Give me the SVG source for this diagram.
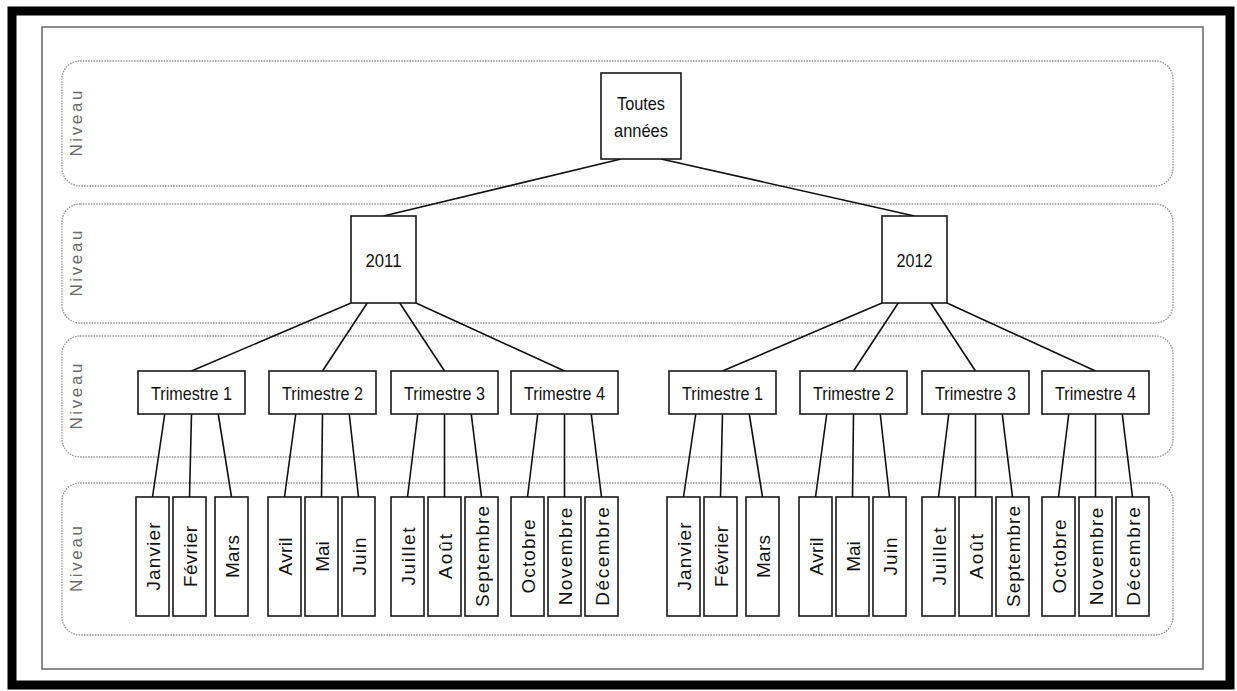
<svg xmlns="http://www.w3.org/2000/svg" width="1237" height="691" viewBox="0 0 1237 691">
  <style>
    .frame { fill: none; stroke: #000; stroke-width: 9; }
    .page { fill: #fff; stroke: #666; stroke-width: 1.5; }
    .band { fill: none; stroke: #999; stroke-width: 1.3; stroke-dasharray: 1.6 1.1; }
    .band-label { font-family: "Liberation Sans", Arial, sans-serif; font-size: 17px; fill: #6b6b6b; text-anchor: middle; }
    .box { fill: #fff; stroke: #1a1a1a; stroke-width: 1.6; }
    .lbl { font-family: "Liberation Sans", Arial, sans-serif; font-size: 19px; fill: #111; text-anchor: middle; }
    .month { font-family: "Liberation Sans", Arial, sans-serif; font-size: 19px; fill: #111; text-anchor: middle; }
    .links line { stroke: #111; stroke-width: 1.6; }
  </style>

  <rect x="0" y="0" width="1237" height="691" fill="#fff"/>
  <rect class="frame" x="12" y="11" width="1218" height="674"/>
  <rect class="page" x="42" y="27" width="1161" height="642"/>

  <!-- hierarchy levels -->
  <g id="levels">
    <rect class="band" x="62" y="61" width="1111" height="125" rx="18"/>
    <rect class="band" x="62" y="204" width="1111" height="119" rx="18"/>
    <rect class="band" x="62" y="336" width="1111" height="121" rx="18"/>
    <rect class="band" x="62" y="483" width="1111" height="152" rx="18"/>
    <text class="band-label" x="82" y="123.5" transform="rotate(-90 82 123.5)" textLength="66" lengthAdjust="spacing">Niveau</text>
    <text class="band-label" x="82" y="263.5" transform="rotate(-90 82 263.5)" textLength="66" lengthAdjust="spacing">Niveau</text>
    <text class="band-label" x="82" y="396.5" transform="rotate(-90 82 396.5)" textLength="66" lengthAdjust="spacing">Niveau</text>
    <text class="band-label" x="82" y="559" transform="rotate(-90 82 559)" textLength="66" lengthAdjust="spacing">Niveau</text>
  </g>

  <!-- connectors -->
  <g id="connectors" class="links">
    <line x1="621" y1="159" x2="383.5" y2="216"/>
    <line x1="661" y1="159" x2="914.5" y2="216"/>

    <line x1="351" y1="303" x2="191.5" y2="371"/>
    <line x1="367.25" y1="303" x2="322.5" y2="371"/>
    <line x1="399.75" y1="303" x2="444.5" y2="371"/>
    <line x1="416" y1="303" x2="564.5" y2="371"/>

    <line x1="882" y1="303" x2="722.5" y2="371"/>
    <line x1="898.25" y1="303" x2="853.5" y2="371"/>
    <line x1="930.75" y1="303" x2="975.5" y2="371"/>
    <line x1="947" y1="303" x2="1095.5" y2="371"/>

    <line x1="164.75" y1="414" x2="152.5" y2="497"/>
    <line x1="191.5" y1="414" x2="189.5" y2="497"/>
    <line x1="218.25" y1="414" x2="231.5" y2="497"/>
    <line x1="295.75" y1="414" x2="284.5" y2="497"/>
    <line x1="322.5" y1="414" x2="321.5" y2="497"/>
    <line x1="349.25" y1="414" x2="358.5" y2="497"/>
    <line x1="417.75" y1="414" x2="407.5" y2="497"/>
    <line x1="444.5" y1="414" x2="444.5" y2="497"/>
    <line x1="471.25" y1="414" x2="481.5" y2="497"/>
    <line x1="537.75" y1="414" x2="527.5" y2="497"/>
    <line x1="564.5" y1="414" x2="564.5" y2="497"/>
    <line x1="591.25" y1="414" x2="601.5" y2="497"/>

    <line x1="695.75" y1="414" x2="683.5" y2="497"/>
    <line x1="722.5" y1="414" x2="720.5" y2="497"/>
    <line x1="749.25" y1="414" x2="762.5" y2="497"/>
    <line x1="826.75" y1="414" x2="815.5" y2="497"/>
    <line x1="853.5" y1="414" x2="852.5" y2="497"/>
    <line x1="880.25" y1="414" x2="889.5" y2="497"/>
    <line x1="948.75" y1="414" x2="938.5" y2="497"/>
    <line x1="975.5" y1="414" x2="975.5" y2="497"/>
    <line x1="1002.25" y1="414" x2="1012.5" y2="497"/>
    <line x1="1068.75" y1="414" x2="1058.5" y2="497"/>
    <line x1="1095.5" y1="414" x2="1095.5" y2="497"/>
    <line x1="1122.25" y1="414" x2="1132.5" y2="497"/>
  </g>

  <!-- root -->
  <g id="node-toutes">
    <rect class="box" x="601" y="73" width="80" height="86"/>
    <text class="lbl" x="641" y="110" textLength="48" lengthAdjust="spacingAndGlyphs">Toutes</text>
    <text class="lbl" x="641" y="136.5" textLength="54" lengthAdjust="spacingAndGlyphs">années</text>
  </g>

  <!-- years -->
  <g id="node-2011">
    <rect class="box" x="351" y="216" width="65" height="87"/>
    <text class="lbl" x="383.5" y="267" textLength="36" lengthAdjust="spacingAndGlyphs">2011</text>
  </g>
  <g id="node-2012">
    <rect class="box" x="882" y="216" width="65" height="87"/>
    <text class="lbl" x="914.5" y="267" textLength="36" lengthAdjust="spacingAndGlyphs">2012</text>
  </g>

  <!-- quarters 2011 -->
  <g id="node-2011-t1">
    <rect class="box" x="138" y="371" width="107" height="43"/>
    <text class="lbl" x="191.5" y="400" textLength="81" lengthAdjust="spacingAndGlyphs">Trimestre 1</text>
  </g>
  <g id="node-2011-t2">
    <rect class="box" x="269" y="371" width="107" height="43"/>
    <text class="lbl" x="322.5" y="400" textLength="81" lengthAdjust="spacingAndGlyphs">Trimestre 2</text>
  </g>
  <g id="node-2011-t3">
    <rect class="box" x="391" y="371" width="107" height="43"/>
    <text class="lbl" x="444.5" y="400" textLength="81" lengthAdjust="spacingAndGlyphs">Trimestre 3</text>
  </g>
  <g id="node-2011-t4">
    <rect class="box" x="511" y="371" width="107" height="43"/>
    <text class="lbl" x="564.5" y="400" textLength="81" lengthAdjust="spacingAndGlyphs">Trimestre 4</text>
  </g>

  <!-- quarters 2012 -->
  <g id="node-2012-t1">
    <rect class="box" x="669" y="371" width="107" height="43"/>
    <text class="lbl" x="722.5" y="400" textLength="81" lengthAdjust="spacingAndGlyphs">Trimestre 1</text>
  </g>
  <g id="node-2012-t2">
    <rect class="box" x="800" y="371" width="107" height="43"/>
    <text class="lbl" x="853.5" y="400" textLength="81" lengthAdjust="spacingAndGlyphs">Trimestre 2</text>
  </g>
  <g id="node-2012-t3">
    <rect class="box" x="922" y="371" width="107" height="43"/>
    <text class="lbl" x="975.5" y="400" textLength="81" lengthAdjust="spacingAndGlyphs">Trimestre 3</text>
  </g>
  <g id="node-2012-t4">
    <rect class="box" x="1042" y="371" width="107" height="43"/>
    <text class="lbl" x="1095.5" y="400" textLength="81" lengthAdjust="spacingAndGlyphs">Trimestre 4</text>
  </g>

  <!-- months 2011 -->
  <g id="node-2011-janvier"><rect class="box" x="136" y="497" width="33" height="119"/><text class="month" x="159.5" y="556.5" transform="rotate(-90 159.5 556.5)" textLength="68" lengthAdjust="spacing">Janvier</text></g>
  <g id="node-2011-fevrier"><rect class="box" x="173" y="497" width="33" height="119"/><text class="month" x="196.5" y="556.5" transform="rotate(-90 196.5 556.5)" textLength="61" lengthAdjust="spacing">Février</text></g>
  <g id="node-2011-mars"><rect class="box" x="215" y="497" width="33" height="119"/><text class="month" x="238.5" y="556.5" transform="rotate(-90 238.5 556.5)" textLength="43" lengthAdjust="spacing">Mars</text></g>
  <g id="node-2011-avril"><rect class="box" x="268" y="497" width="33" height="119"/><text class="month" x="291.5" y="556.5" transform="rotate(-90 291.5 556.5)" textLength="38" lengthAdjust="spacing">Avril</text></g>
  <g id="node-2011-mai"><rect class="box" x="305" y="497" width="33" height="119"/><text class="month" x="328.5" y="556.5" transform="rotate(-90 328.5 556.5)" textLength="30.5" lengthAdjust="spacing">Mai</text></g>
  <g id="node-2011-juin"><rect class="box" x="342" y="497" width="33" height="119"/><text class="month" x="365.5" y="556.5" transform="rotate(-90 365.5 556.5)" textLength="38" lengthAdjust="spacing">Juin</text></g>
  <g id="node-2011-juillet"><rect class="box" x="391" y="497" width="33" height="119"/><text class="month" x="414.5" y="556.5" transform="rotate(-90 414.5 556.5)" textLength="58" lengthAdjust="spacing">Juillet</text></g>
  <g id="node-2011-aout"><rect class="box" x="428" y="497" width="33" height="119"/><text class="month" x="451.5" y="556.5" transform="rotate(-90 451.5 556.5)" textLength="45" lengthAdjust="spacing">Août</text></g>
  <g id="node-2011-septembre"><rect class="box" x="465" y="497" width="33" height="119"/><text class="month" x="488.5" y="556.5" transform="rotate(-90 488.5 556.5)" textLength="101" lengthAdjust="spacing">Septembre</text></g>
  <g id="node-2011-octobre"><rect class="box" x="511" y="497" width="33" height="119"/><text class="month" x="534.5" y="556.5" transform="rotate(-90 534.5 556.5)" textLength="74" lengthAdjust="spacing">Octobre</text></g>
  <g id="node-2011-novembre"><rect class="box" x="548" y="497" width="33" height="119"/><text class="month" x="571.5" y="556.5" transform="rotate(-90 571.5 556.5)" textLength="97.5" lengthAdjust="spacing">Novembre</text></g>
  <g id="node-2011-decembre"><rect class="box" x="585" y="497" width="33" height="119"/><text class="month" x="608.5" y="556.5" transform="rotate(-90 608.5 556.5)" textLength="98.5" lengthAdjust="spacing">Décembre</text></g>

  <!-- months 2012 -->
  <g id="node-2012-janvier"><rect class="box" x="667" y="497" width="33" height="119"/><text class="month" x="690.5" y="556.5" transform="rotate(-90 690.5 556.5)" textLength="68" lengthAdjust="spacing">Janvier</text></g>
  <g id="node-2012-fevrier"><rect class="box" x="704" y="497" width="33" height="119"/><text class="month" x="727.5" y="556.5" transform="rotate(-90 727.5 556.5)" textLength="61" lengthAdjust="spacing">Février</text></g>
  <g id="node-2012-mars"><rect class="box" x="746" y="497" width="33" height="119"/><text class="month" x="769.5" y="556.5" transform="rotate(-90 769.5 556.5)" textLength="43" lengthAdjust="spacing">Mars</text></g>
  <g id="node-2012-avril"><rect class="box" x="799" y="497" width="33" height="119"/><text class="month" x="822.5" y="556.5" transform="rotate(-90 822.5 556.5)" textLength="38" lengthAdjust="spacing">Avril</text></g>
  <g id="node-2012-mai"><rect class="box" x="836" y="497" width="33" height="119"/><text class="month" x="859.5" y="556.5" transform="rotate(-90 859.5 556.5)" textLength="30.5" lengthAdjust="spacing">Mai</text></g>
  <g id="node-2012-juin"><rect class="box" x="873" y="497" width="33" height="119"/><text class="month" x="896.5" y="556.5" transform="rotate(-90 896.5 556.5)" textLength="38" lengthAdjust="spacing">Juin</text></g>
  <g id="node-2012-juillet"><rect class="box" x="922" y="497" width="33" height="119"/><text class="month" x="945.5" y="556.5" transform="rotate(-90 945.5 556.5)" textLength="58" lengthAdjust="spacing">Juillet</text></g>
  <g id="node-2012-aout"><rect class="box" x="959" y="497" width="33" height="119"/><text class="month" x="982.5" y="556.5" transform="rotate(-90 982.5 556.5)" textLength="45" lengthAdjust="spacing">Août</text></g>
  <g id="node-2012-septembre"><rect class="box" x="996" y="497" width="33" height="119"/><text class="month" x="1019.5" y="556.5" transform="rotate(-90 1019.5 556.5)" textLength="101" lengthAdjust="spacing">Septembre</text></g>
  <g id="node-2012-octobre"><rect class="box" x="1042" y="497" width="33" height="119"/><text class="month" x="1065.5" y="556.5" transform="rotate(-90 1065.5 556.5)" textLength="74" lengthAdjust="spacing">Octobre</text></g>
  <g id="node-2012-novembre"><rect class="box" x="1079" y="497" width="33" height="119"/><text class="month" x="1102.5" y="556.5" transform="rotate(-90 1102.5 556.5)" textLength="97.5" lengthAdjust="spacing">Novembre</text></g>
  <g id="node-2012-decembre"><rect class="box" x="1116" y="497" width="33" height="119"/><text class="month" x="1139.5" y="556.5" transform="rotate(-90 1139.5 556.5)" textLength="98.5" lengthAdjust="spacing">Décembre</text></g>
</svg>
